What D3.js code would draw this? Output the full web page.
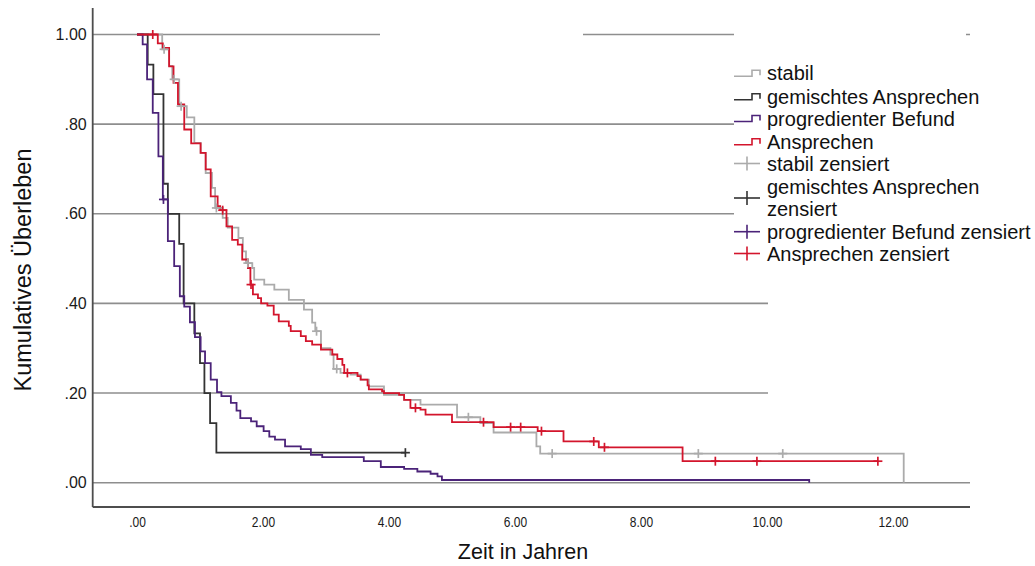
<!DOCTYPE html>
<html>
<head>
<meta charset="utf-8">
<script src="https://cdn.jsdelivr.net/npm/d3@7/dist/d3.min.js"></script>
<style>
  html, body { margin: 0; padding: 0; background: #fff; }
  svg { display: block; font-family: "Liberation Sans", Arial, sans-serif; }
</style>
</head>
<body>
<svg id="chart" width="1035" height="566"></svg>
<script>
// ---------------- DATA ----------------
const xTicks = [0, 2, 4, 6, 8, 10, 12];
const yTicks = [0, 0.2, 0.4, 0.6, 0.8, 1.0];
const groupNames = ["stabil", "gemischtes Ansprechen", "progredienter Befund", "Ansprechen"];
const groupColors = ["#ababab", "#333333", "#4b2379", "#d3152c"];

// Kaplan-Meier step points [time in years, cumulative survival]
const stabil = [[0,1],[0.40,0.967],[0.51,0.93],[0.56,0.90],[0.67,0.84],[0.79,0.815],[0.91,0.758],[1.01,0.736],
  [1.09,0.691],[1.19,0.658],[1.24,0.613],[1.36,0.591],[1.44,0.569],[1.61,0.546],[1.68,0.516],[1.73,0.49],
  [1.83,0.479],[1.86,0.453],[2.02,0.442],[2.18,0.431],[2.41,0.408],[2.65,0.386],[2.78,0.357],[2.83,0.338],
  [2.92,0.30],[3.07,0.286],[3.12,0.254],[3.23,0.245],[3.39,0.241],[3.55,0.23],[3.68,0.215],[3.92,0.196],
  [4.24,0.185],[4.50,0.174],[5.08,0.146],[5.45,0.133],[5.66,0.112],[6.34,0.081],[6.40,0.065],[12.17,0]];
const gemischt = [[0,1],[0.17,0.933],[0.26,0.867],[0.42,0.667],[0.49,0.60],[0.67,0.533],[0.74,0.40],
  [0.91,0.333],[1.00,0.267],[1.07,0.20],[1.16,0.133],[1.26,0.067],[4.26,0.067]];
const progredient = [[0,1],[0.09,0.978],[0.16,0.90],[0.25,0.825],[0.34,0.728],[0.41,0.632],[0.49,0.539],
  [0.59,0.483],[0.68,0.416],[0.75,0.393],[0.84,0.358],[0.92,0.325],[1.01,0.293],[1.08,0.267],[1.17,0.23],
  [1.27,0.202],[1.34,0.193],[1.49,0.178],[1.58,0.161],[1.64,0.144],[1.81,0.137],[1.90,0.126],[2.01,0.115],
  [2.10,0.103],[2.19,0.096],[2.35,0.081],[2.60,0.075],[2.76,0.062],[2.94,0.057],[3.60,0.048],[3.87,0.035],
  [4.24,0.031],[4.45,0.025],[4.66,0.02],[4.77,0.014],[4.84,0.006],[10.67,0]];
const ansprechen = [[0,1],[0.33,0.98],[0.41,0.97],[0.51,0.929],[0.58,0.892],[0.65,0.844],[0.75,0.788],
  [0.86,0.757],[1.01,0.736],[1.09,0.699],[1.17,0.639],[1.28,0.617],[1.32,0.608],[1.42,0.572],[1.51,0.542],
  [1.60,0.531],[1.67,0.498],[1.76,0.479],[1.80,0.442],[1.84,0.42],[1.92,0.412],[1.97,0.40],[2.07,0.395],
  [2.17,0.375],[2.25,0.36],[2.41,0.35],[2.44,0.338],[2.60,0.327],[2.68,0.316],[2.78,0.308],[2.92,0.297],
  [3.10,0.286],[3.18,0.276],[3.26,0.263],[3.29,0.245],[3.50,0.238],[3.55,0.23],[3.66,0.217],[3.68,0.208],
  [3.89,0.204],[3.92,0.20],[4.16,0.196],[4.24,0.185],[4.34,0.167],[4.50,0.163],[4.58,0.152],[5.00,0.135],
  [5.66,0.124],[6.36,0.115],[6.77,0.092],[7.33,0.079],[8.66,0.048],[11.76,0.048]];

// censored observations [time, survival]
const stabilCensored = [[0.43,0.967],[0.59,0.90],[0.70,0.84],[1.26,0.613],[1.76,0.49],[2.85,0.338],
  [3.17,0.254],[5.26,0.146],[6.59,0.065],[8.91,0.065],[10.25,0.065]];
const gemischtCensored = [[4.26,0.067]];
const progredientCensored = [[0.42,0.632]];
const ansprechenCensored = [[0.25,1.0],[1.36,0.608],[1.81,0.442],[3.34,0.245],[4.42,0.167],[5.50,0.135],
  [5.93,0.124],[6.09,0.124],[6.42,0.115],[7.25,0.092],[7.42,0.079],[9.18,0.048],[9.84,0.048],[11.76,0.048]];

const legendLabels = ["stabil", "gemischtes Ansprechen", "progredienter Befund", "Ansprechen",
  "stabil zensiert", "gemischtes Ansprechen|zensiert", "progredienter Befund zensiert", "Ansprechen zensiert"];

const xTitle = "Zeit in Jahren";
const yTitle = "Kumulatives Überleben";

// ---------------- DRAW ----------------
const svg = d3.select("#chart");
const x = d3.scaleLinear().domain([0, 12]).range([137, 893]);
const y = d3.scaleLinear().domain([0, 1]).range([482.7, 34.5]);
const axisX = 92.7, axisBottomY = 507, plotRight = 970, axisTop = 8;

// gridlines
svg.append("g").selectAll("line").data(yTicks).join("line")
  .attr("x1", axisX).attr("x2", plotRight)
  .attr("y1", d => y(d)).attr("y2", d => y(d))
  .attr("stroke", "#8e8e8e").attr("stroke-width", 1.6);

// white masks (as in original: gridlines interrupted by boxes)
const masks = svg.append("g").attr("fill", "#fff");
masks.append("rect").attr("x", 380).attr("y", 22).attr("width", 203).attr("height", 25);
masks.append("rect").attr("x", 734).attr("y", 22).attr("width", 232).attr("height", 25);
masks.append("rect").attr("x", 734).attr("y", 47).attr("width", 301).attr("height", 225);
masks.append("rect").attr("x", 768).attr("y", 272).attr("width", 267).attr("height", 150);

// axis lines
svg.append("line").attr("x1", axisX).attr("x2", axisX).attr("y1", axisTop).attr("y2", axisBottomY)
  .attr("stroke", "#4d4d4d").attr("stroke-width", 1.8);
svg.append("line").attr("x1", axisX).attr("x2", plotRight).attr("y1", axisBottomY).attr("y2", axisBottomY)
  .attr("stroke", "#4d4d4d").attr("stroke-width", 1.8);

// y axis labels
const fmt = d => d3.format(".2f")(d).replace(/^0/, "");
const yAxis = svg.append("g").attr("transform", `translate(${axisX},0)`)
  .call(d3.axisLeft(y).tickValues(yTicks).tickFormat(fmt).tickSize(0).tickPadding(6));
yAxis.select(".domain").remove();
yAxis.selectAll("text").attr("font-size", 16).attr("fill", "#1a1a1a")
  .attr("font-family", "Liberation Sans, Arial, sans-serif");

// x axis labels
const xAxis = svg.append("g").attr("transform", `translate(0,${axisBottomY})`)
  .call(d3.axisBottom(x).tickValues(xTicks).tickFormat(fmt).tickSize(0).tickPadding(9));
xAxis.select(".domain").remove();
xAxis.selectAll("text").attr("font-size", 15).attr("fill", "#1a1a1a")
  .attr("font-family", "Liberation Sans, Arial, sans-serif")
  .attr("transform", "scale(0.8,1)");

// titles
svg.append("text").attr("x", 523).attr("y", 559).attr("text-anchor", "middle")
  .attr("font-size", 21.5).attr("fill", "#111").text(xTitle);
svg.append("text").attr("transform", "translate(31,270) rotate(-90)").attr("text-anchor", "middle")
  .attr("font-size", 23.5).attr("fill", "#111").text(yTitle);

// curves
const series = [stabil, gemischt, progredient, ansprechen];
const censored = [stabilCensored, gemischtCensored, progredientCensored, ansprechenCensored];
const line = d3.line().x(d => x(d[0])).y(d => y(d[1])).curve(d3.curveStepAfter);
const curves = svg.append("g");
series.forEach((s, i) => {
  curves.append("path").attr("d", line(s)).attr("fill", "none")
    .attr("stroke", groupColors[i]).attr("stroke-width", 1.8);
});
const cs = 4.5;
censored.forEach((c, i) => {
  const g = curves.append("g").attr("stroke", groupColors[i]).attr("stroke-width", 1.7);
  g.selectAll("line.v").data(c).join("line").attr("class", "v")
    .attr("x1", d => x(d[0])).attr("x2", d => x(d[0]))
    .attr("y1", d => y(d[1]) - cs).attr("y2", d => y(d[1]) + cs);
  g.selectAll("line.h").data(c).join("line").attr("class", "h")
    .attr("x1", d => x(d[0]) - cs).attr("x2", d => x(d[0]) + cs)
    .attr("y1", d => y(d[1])).attr("y2", d => y(d[1]));
});

// legend
const legend = svg.append("g");
const rowCenters = [73.3, 96.7, 118.5, 141.7, 163.5, 198, 231.7, 253.5];
const lx = 734;
legendLabels.forEach((lab, i) => {
  const c = rowCenters[i];
  const col = groupColors[i % 4];
  if (i < 4) {
    legend.append("path")
      .attr("d", `M${lx},${c + 3}H${lx + 18}V${c - 3}H${lx + 26}V${c + 2}`)
      .attr("fill", "none").attr("stroke", col).attr("stroke-width", 1.6);
  } else {
    legend.append("line").attr("x1", lx).attr("x2", lx + 26).attr("y1", c).attr("y2", c)
      .attr("stroke", col).attr("stroke-width", 1.6);
    legend.append("line").attr("x1", lx + 13).attr("x2", lx + 13).attr("y1", c - 7).attr("y2", c + 7)
      .attr("stroke", col).attr("stroke-width", 1.6);
  }
  const parts = lab.split("|");
  const t = legend.append("text").attr("font-size", 20).attr("fill", "#111");
  if (parts.length === 1) {
    t.attr("x", 767).attr("y", c + 7).text(lab);
  } else {
    t.attr("x", 767).attr("y", c - 11.3 + 7).text(parts[0]);
    legend.append("text").attr("font-size", 20).attr("fill", "#111")
      .attr("x", 767).attr("y", c + 11.3 + 7).text(parts[1]);
  }
});
</script>
</body>
</html>
